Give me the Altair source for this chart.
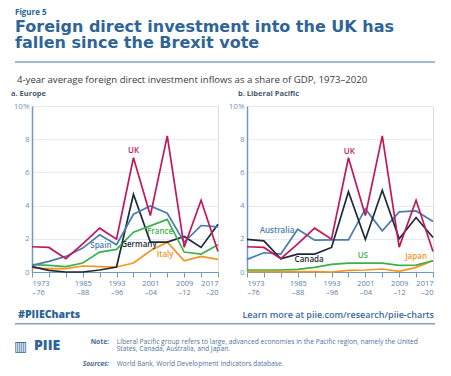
import altair as alt
import pandas as pd

# ---------------- data ----------------
years = [1973, 1977, 1981, 1985, 1989, 1993, 1997, 2001, 2005, 2009, 2013, 2017]
labeled_years = [1973, 1985, 1993, 2001, 2009, 2017]
labeled_lines = [["1973", "–76"], ["1985", "–88"], ["1993", "–96"],
                 ["2001", "–04"], ["2009", "–12"], ["2017", "–20"]]

uk = [1.52, 1.48, 0.80, 1.70, 2.64, 1.98, 6.88, 3.40, 8.20, 1.50, 4.32, 1.24]
spain = [0.40, 0.64, 0.94, 1.44, 2.24, 1.64, 3.48, 3.98, 3.54, 1.80, 2.80, 2.72]
france = [0.44, 0.40, 0.32, 0.54, 1.20, 1.36, 2.40, 2.78, 3.17, 1.20, 1.08, 1.64]
germany = [0.32, 0.10, 0.00, 0.00, 0.12, 0.30, 4.68, 1.80, 1.80, 2.14, 1.48, 2.88]
italy = [0.24, 0.20, 0.20, 0.36, 0.32, 0.30, 0.54, 1.28, 1.80, 0.68, 0.94, 0.76]

canada = [1.96, 1.88, 0.80, 1.08, 1.08, 1.48, 4.84, 1.96, 4.92, 2.00, 3.28, 2.08]
australia = [0.76, 1.16, 1.08, 2.58, 1.92, 1.94, 1.94, 3.80, 2.48, 3.62, 3.68, 3.04]
us = [0.12, 0.12, 0.12, 0.16, 0.28, 0.46, 0.54, 0.54, 0.54, 0.40, 0.42, 0.68]
japan = [0.02, 0.02, 0.02, 0.02, 0.02, 0.00, 0.10, 0.12, 0.18, 0.04, 0.28, 0.68]

europe_series = ["Italy", "Germany", "France", "Spain", "UK"]
europe_values = [italy, germany, france, spain, uk]
pacific_series = ["Japan", "US", "Australia", "Canada", "UK"]
pacific_values = [japan, us, australia, canada, uk]

europe_lab_text = ["UK", "Spain", "Germany", "France", "Italy"]
europe_lab_x = [1997.0, 1989.3, 1998.3, 2003.3, 2004.5]
europe_lab_y = [7.3, 1.54, 1.6, 2.4, 1.02]
pacific_lab_text = ["UK", "Australia", "Canada", "US", "Japan"]
pacific_lab_x = [1997.2, 1980.1, 1987.7, 2000.4, 2013.0]
pacific_lab_y = [7.2, 2.5, 0.74, 0.94, 0.9]

colors = {"UK": "#C2185B", "Spain": "#4A7DB1", "Australia": "#4A7DB1",
          "France": "#3DB04B", "US": "#3DB04B", "Germany": "#1C2A38",
          "Canada": "#1C2A38", "Italy": "#F7941E", "Japan": "#F7941E"}

figure_label = ["Figure 5"]
title_lines = ["Foreign direct investment into the UK has", "fallen since the Brexit vote"]
subtitle = ["4-year average foreign direct investment inflows as a share of GDP, 1973–2020"]
panel_titles = ["a. Europe", "b. Liberal Pacific"]
hashtag = ["#PIIECharts"]
learn_more = ["Learn more at piie.com/research/piie-charts"]
logo_icon = ["▥"]
logo_text = ["PIIE"]
note_head = ["Note:"]
note_lines = ["Liberal Pacific group refers to large, advanced economies in the Pacific region, namely the United",
              "States, Canada, Australia, and Japan."]
source_head = ["Sources:"]
source_text = ["World Bank, World Development Indicators database."]

FONT = "Open Sans"
TITLE_FONT = "DejaVu Sans"
BLUE = "#2F6497"
AXIS_BLUE = "#6F98C2"
W, H = 186, 166

# x label expression from lists
expr = "''"
for yv, parts in reversed(list(zip(labeled_years, labeled_lines))):
    expr = f"datum.value == {yv} ? ['{parts[0]}', '{parts[1]}'] : ({expr})"

X_SCALE = alt.Scale(domain=[1973, 2017], nice=False, zero=False)
Y_SCALE = alt.Scale(domain=[0, 10], nice=False)
X_AXIS = alt.Axis(values=years, labelExpr=expr, title=None, grid=False,
                  tickSize=5, tickColor=AXIS_BLUE, domainColor=AXIS_BLUE,
                  domainWidth=1.2, labelFlush=True, labelOverlap=False,
                  labelColor="#5B80A8", labelFont=FONT, labelFontSize=7.5,
                  labelLineHeight=9, labelPadding=2)
Y_AXIS = alt.Axis(values=[0, 2, 4, 6, 8, 10], title=None, grid=True,
                  gridColor="#E6EBF1", ticks=False, domainColor=AXIS_BLUE,
                  domainWidth=1.5, labelColor="#6F98C2", labelFont=FONT,
                  labelFontSize=8, labelPadding=3, labelOverlap=False,
                  labelExpr="datum.value == 10 ? '10%' : datum.label")


def text_layer(texts, x, y, size, color, weight="normal", align="left", style="normal",
               font=FONT):
    return alt.Chart(pd.DataFrame({"t": texts})).mark_text(
        font=font, fontSize=size, color=color, fontWeight=weight, align=align,
        baseline="alphabetic", fontStyle=style
    ).encode(x=alt.value(x), y=alt.value(y), text="t:N")


def panel(series, values, lab_text, lab_x, lab_y):
    rows = []
    for name, vals in zip(series, values):
        for yr, v in zip(years, vals):
            rows.append({"year": yr, "value": v, "country": name})
    df = pd.DataFrame(rows)
    layers = []
    for name in series:
        layers.append(
            alt.Chart(df).transform_filter(alt.datum.country == name).mark_line(
                strokeWidth=1.7, color=colors[name], clip=False
            ).encode(x=alt.X("year:Q", scale=X_SCALE, axis=X_AXIS),
                     y=alt.Y("value:Q", scale=Y_SCALE, axis=Y_AXIS))
        )
    ldf = pd.DataFrame({"t": lab_text, "year": lab_x, "value": lab_y})
    ldf["c"] = [colors[t] for t in lab_text]
    layers.append(
        alt.Chart(ldf).mark_text(font=FONT, fontSize=8, fontWeight=600, align="center",
                                 baseline="middle").encode(
            x=alt.X("year:Q", scale=X_SCALE, axis=X_AXIS),
            y=alt.Y("value:Q", scale=Y_SCALE, axis=Y_AXIS),
            text="t:N", color=alt.Color("c:N", scale=None))
    )
    return layers


left_layers = panel(europe_series, europe_values, europe_lab_text, europe_lab_x, europe_lab_y)
left_layers += [
    text_layer(figure_label, -17, -91, 8, BLUE, "bold"),
    text_layer(title_lines[:1], -17, -74, 16, BLUE, "bold", font=TITLE_FONT),
    text_layer(title_lines[1:], -17, -58, 16, BLUE, "bold", font=TITLE_FONT),
    alt.Chart(pd.DataFrame({"a": [0]})).mark_rule(color="#7FA3C8", strokeWidth=1.5).encode(
        x=alt.value(-17), x2=alt.value(403), y=alt.value(-44)),
    text_layer(subtitle, -15, -23.5, 9.6, "#3A3A3A"),
    text_layer(panel_titles[:1], -21, -10.5, 7.5, "#4A5B6E", "bold"),
    text_layer(hashtag, -14, 211.5, 10.5, BLUE, 800),
    text_layer(learn_more, 402, 211.5, 9, "#3C6A9A", 600, "right"),
    alt.Chart(pd.DataFrame({"a": [0]})).mark_rule(color="#7FA3C8", strokeWidth=1.5).encode(
        x=alt.value(-17), x2=alt.value(403), y=alt.value(217.7)),
    text_layer(logo_icon, -18, 245, 14, BLUE, "bold", font="DejaVu Sans"),
    text_layer(logo_text, 2, 244, 14, BLUE, 800),
    text_layer(note_head, 77, 237.5, 6.7, "#4A6D91", "bold", "right"),
    text_layer(note_lines[:1], 84.7, 237.5, 6.7, "#4F74A0"),
    text_layer(note_lines[1:], 84.7, 245, 6.7, "#4F74A0"),
    text_layer(source_head, 77, 260, 6.7, "#4A6D91", "bold", "right", "italic"),
    text_layer(source_text, 84.7, 260, 6.7, "#4F74A0"),
]

right_layers = panel(pacific_series, pacific_values, pacific_lab_text, pacific_lab_x,
                     pacific_lab_y)
right_layers += [text_layer(panel_titles[1:], -9, -10.5, 7.5, "#4A5B6E", "bold")]

left = alt.layer(*left_layers).properties(width=W, height=H)
right = alt.layer(*right_layers).properties(width=W, height=H)

chart = alt.hconcat(left, right, spacing=29, bounds="flush").properties(
    padding={"left": 2, "top": 0, "right": 4, "bottom": 4}
).configure_view(stroke=None).configure(background="white")

chart.save("out.html", embed_options={"renderer": "svg", "actions": False})
